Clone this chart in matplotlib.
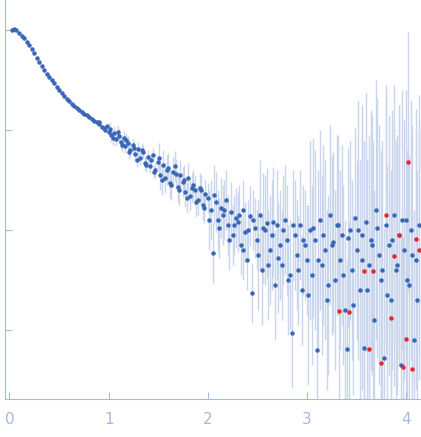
import matplotlib.pyplot as plt
import numpy as np

# momentum transfer (nm^-1) and log10 intensity
q_blue = [0.03, 0.05, 0.07, 0.1, 0.13, 0.15, 0.18, 0.2, 0.23, 0.25, 0.28, 0.3, 0.33, 0.35, 0.38,
          0.4, 0.43, 0.45, 0.48, 0.5, 0.53, 0.55, 0.58, 0.6, 0.63, 0.65, 0.68, 0.7, 0.73, 0.75,
          0.78, 0.8, 0.83, 0.85, 0.88, 0.9, 0.93, 0.95, 0.98, 1.0, 1.02, 1.05, 1.07, 1.1, 1.12,
          1.15, 1.17, 1.2, 1.22, 1.25, 1.27, 1.3, 1.32, 1.35, 1.37, 1.4, 1.42, 1.45, 1.47, 1.5,
          1.52, 1.55, 1.57, 1.6, 1.62, 1.65, 1.67, 1.7, 1.72, 1.75, 1.77, 1.8, 1.82, 1.85, 1.87,
          1.9, 1.92, 1.95, 1.97, 2.0, 2.03, 2.05, 2.08, 2.1, 2.13, 2.15, 2.18, 2.2, 2.23, 2.25,
          2.28, 2.3, 2.33, 2.35, 2.38, 2.4, 2.43, 2.45, 2.48, 2.5, 2.53, 2.55, 2.58, 2.6, 2.63,
          2.65, 2.68, 2.7, 2.73, 2.75, 2.78, 2.8, 2.83, 2.85, 2.88, 2.9, 2.93, 2.95, 2.98, 3.0,
          3.03, 3.05, 3.08, 3.1, 3.13, 3.15, 3.18, 3.2, 3.23, 3.25, 3.28, 3.3, 3.33, 3.35, 3.38,
          3.4, 3.43, 3.45, 3.48, 3.5, 3.53, 3.55, 3.58, 3.6, 3.63, 3.65, 3.68, 3.7, 3.73, 3.75,
          3.78, 3.8, 3.83, 3.85, 3.88, 3.9, 3.93, 3.95, 3.98, 4.0, 4.03, 4.05, 4.08, 4.1, 4.13]
logi_blue = [0.00, 0.01, 0.00, -0.03, -0.06, -0.08, -0.12, -0.15, -0.19, -0.23, -0.28, -0.32, -0.36, -0.40, -0.44,
             -0.47, -0.50, -0.53, -0.57, -0.60, -0.63, -0.66, -0.69, -0.71, -0.74, -0.76, -0.78, -0.80, -0.82, -0.84,
             -0.85, -0.87, -0.89, -0.91, -0.92, -0.94, -0.97, -0.98, -0.96, -1.02, -1.05, -1.03, -1.09, -1.06, -1.12,
             -1.08, -1.16, -1.13, -1.20, -1.15, -1.24, -1.19, -1.28, -1.22, -1.33, -1.27, -1.36, -1.25, -1.40, -1.32,
             -1.45, -1.35, -1.48, -1.38, -1.53, -1.42, -1.36, -1.57, -1.45, -1.52, -1.62, -1.48, -1.66, -1.55, -1.60,
             -1.70, -1.58, -1.75, -1.64, -1.68, -1.80, -2.23, -1.72, -1.90, -1.78, -1.85, -1.70, -1.95, -1.82, -2.05,
             -1.88, -1.92, -2.15, -1.80, -2.02, -2.30, -1.86, -2.63, -1.98, -2.10, -1.85, -2.40, -2.00, -1.93, -2.20,
             -2.05, -2.55, -1.95, -2.15, -2.35, -1.90, -2.10, -2.45, -3.03, -2.05, -2.25, -1.95, -2.60, -2.15, -2.30,
             -2.00, -2.45, -2.10, -3.20, -1.90, -2.35, -2.20, -2.70, -1.85, -2.15, -2.50, -1.95, -2.30, -2.05, -2.80,
             -3.19, -2.00, -2.40, -1.88, -2.20, -2.60, -2.05, -3.18, -1.92, -2.35, -2.10, -2.90, -1.80, -2.25, -2.50,
             -3.28, -1.95, -2.15, -2.70, -1.85, -2.40, -2.05, -3.35, -2.20, -1.90, -2.55, -2.00, -3.10, -2.30, -1.95]

# extra points filling the dense middle band
q_mid = [0.9, 0.96, 1.01, 1.04, 1.09, 1.13, 1.18, 1.21, 1.26, 1.29, 1.34, 1.38, 1.43, 1.46, 1.51,
         1.54, 1.59, 1.63, 1.68, 1.71, 1.76, 1.79, 1.84, 1.88, 1.93, 1.96, 2.01, 2.06, 2.11, 2.16,
         2.21, 2.26, 2.31, 2.36, 2.41, 2.46, 2.51, 2.56, 2.61, 2.66, 2.71, 2.76, 2.81, 2.86, 2.91,
         2.96, 3.01, 3.06, 3.11, 3.16, 3.21, 3.26, 3.31, 3.36, 3.41, 3.46, 3.51, 3.56, 3.61, 3.66,
         3.71, 3.76, 3.81, 3.86, 3.91, 3.96, 4.01, 4.06, 4.11]
logi_mid = [-0.92, -1.00, -0.99, -1.08, -1.02, -1.15, -1.10, -1.22, -1.18, -1.30, -1.20, -1.35, -1.30, -1.42, -1.28,
            -1.50, -1.40, -1.55, -1.44, -1.60, -1.50, -1.68, -1.58, -1.72, -1.60, -1.78, -1.90, -1.65, -1.98, -1.80,
            -2.10, -1.95, -1.85, -2.20, -2.00, -1.90, -2.25, -1.98, -2.35, -1.92, -2.28, -2.00, -2.50, -1.95, -2.40,
            -2.10, -2.65, -1.98, -2.30, -2.05, -2.55, -2.12, -1.95, -2.45, -2.08, -2.75, -2.00, -2.30, -2.60, -2.15,
            -1.98, -2.40, -2.65, -2.10, -2.35, -1.90, -2.50, -2.25, -2.70]

q_red = [3.32, 3.42, 3.58, 3.63, 3.67, 3.75, 3.8, 3.85, 3.88, 3.93, 3.97, 4.0, 4.02, 4.06, 4.1, 4.13]
logi_red = [-2.81, -2.82, -2.41, -3.19, -2.41, -3.33, -1.85, -2.88, -2.26, -2.05, -3.37, -3.09, -1.32, -3.39, -2.09, -2.20]

err_edges = [1.0, 1.5, 2.0, 2.5, 3.0, 3.5]
err_sizes = [0.02, 0.07, 0.15, 0.3, 0.55, 0.9, 1.3]


def err_decades(q):
    return np.array(err_sizes)[np.searchsorted(err_edges, q)]


fig = plt.figure(figsize=(4.21, 4.37), dpi=100)
ax = fig.add_axes([5 / 421, 38 / 437, 416 / 421, 399 / 437])

for qs, ls, color in [(q_blue, logi_blue, "#3a66b8"), (q_mid, logi_mid, "#3a66b8"),
                      (q_red, logi_red, "#e8262a")]:
    qs = np.array(qs)
    inten = 10 ** np.array(ls)
    e = err_decades(qs)
    lo = inten - inten * 10 ** (-e)
    hi = inten * 10 ** e - inten
    ax.errorbar(qs, inten, yerr=[lo, hi], fmt="none", ecolor="#c9d6ec", elinewidth=1, zorder=1)
    ax.plot(qs, inten, "o", color=color, markersize=2.2, zorder=2)

ax.set_yscale("log")
ax.set_xlim(-0.045, 4.15)
ax.set_ylim(10 ** -3.69, 10 ** 0.3)
ax.set_xticks([0, 1, 2, 3, 4])
ax.set_yticks([1, 0.1, 0.01, 0.001])
ax.set_yticklabels([])
ax.yaxis.set_minor_locator(plt.NullLocator())
for side in ["top", "right"]:
    ax.spines[side].set_visible(False)
for side in ["left", "bottom"]:
    ax.spines[side].set_color("#a6b8dc")
ax.tick_params(direction="in", length=5, color="#a6b8dc", labelcolor="#a6b8dc", labelsize=11, pad=9)

fig.savefig("out.png", dpi=100)
